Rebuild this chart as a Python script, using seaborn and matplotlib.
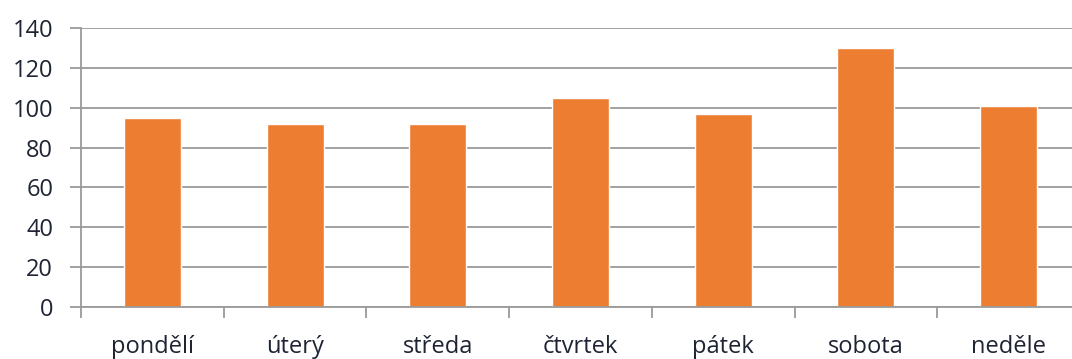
import numpy as np
import pandas as pd
import matplotlib
matplotlib.use("Agg")
import matplotlib.pyplot as plt
import seaborn as sns

days = ["pondělí", "úterý", "středa", "čtvrtek", "pátek", "sobota", "neděle"]
values = [95, 92, 92, 105, 97, 130, 101]
y_ticks = [0, 20, 40, 60, 80, 100, 120, 140]

sns.set_style("white")
plt.rcParams["font.family"] = ["Open Sans", "DejaVu Sans"]

df = pd.DataFrame({"day": days, "value": values})

fig = plt.figure(figsize=(10.72, 3.59), dpi=100)
# the original is cropped on the right, so the axes run past the figure edge
ax = fig.add_axes([81 / 1072, 52 / 359, 999 / 1072, 279 / 359])

sns.barplot(data=df, x="day", y="value", color="#ED7D31", saturation=1,
            width=0.4, ax=ax)

ax.set_ylim(0, 140)
ax.set_xlim(-0.5, len(days) - 0.5)
ax.set_yticks(y_ticks)
ax.yaxis.grid(True, color="#9a9a9a", linewidth=1.3)
ax.set_axisbelow(True)

for side in ["top", "right"]:
    ax.spines[side].set_visible(False)
ax.spines["left"].set_color("#9a9a9a")
ax.spines["bottom"].set_color("#9a9a9a")
ax.spines["left"].set_linewidth(1.3)
ax.spines["bottom"].set_linewidth(1.3)

ax.tick_params(axis="y", direction="out", length=8, width=1.3, color="#9a9a9a",
               labelsize=17, labelcolor="#1e2433", pad=12, left=True)
ax.tick_params(axis="x", which="major", length=0, labelsize=17,
               labelcolor="#1e2433", pad=20)
ax.set_xticks(np.arange(-0.5, len(days), 1.0), minor=True)
ax.tick_params(axis="x", which="minor", direction="out", length=8, width=1.3,
               color="#9a9a9a", bottom=True)

ax.set_xlabel("")
ax.set_ylabel("")

fig.savefig("out.png", dpi=100)
